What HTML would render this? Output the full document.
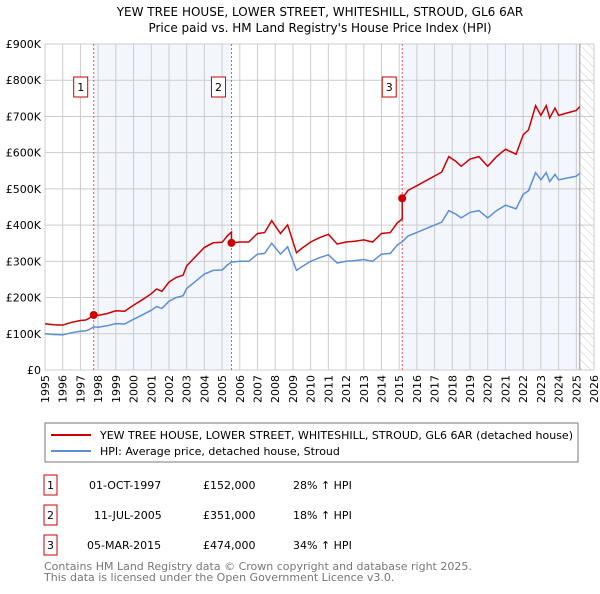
<!DOCTYPE html>
<html><head><meta charset="utf-8"><style>
body{margin:0;background:#fff;font-family:"DejaVu Sans","Liberation Sans",sans-serif;}
svg text{font-family:"DejaVu Sans","Liberation Sans",sans-serif;}
</style></head><body>
<svg id="c" width="600" height="590" xmlns="http://www.w3.org/2000/svg">
<defs><pattern id="hatch" width="6" height="6" patternUnits="userSpaceOnUse" patternTransform="rotate(-45)"><line x1="0" y1="0" x2="0" y2="6" stroke="#ccc" stroke-width="1"/></pattern></defs>
<text x="320" y="16" font-size="12" text-anchor="middle">YEW TREE HOUSE, LOWER STREET, WHITESHILL, STROUD, GL6 6AR</text>
<text x="320" y="32" font-size="12" text-anchor="middle">Price paid vs. HM Land Registry's House Price Index (HPI)</text>
<g id="plot"></g>
<rect x="45" y="423" width="533" height="39" fill="none" stroke="#777"/>
<line x1="51" y1="435" x2="91" y2="435" stroke="#cc0000" stroke-width="2"/>
<text x="100" y="439" font-size="11">YEW TREE HOUSE, LOWER STREET, WHITESHILL, STROUD, GL6 6AR (detached house)</text>
<line x1="51" y1="451" x2="91" y2="451" stroke="#5b8fd4" stroke-width="2"/>
<text x="100" y="455" font-size="11">HPI: Average price, detached house, Stroud</text>
<g font-size="11">
<rect x="44" y="475" width="13" height="20" fill="none" stroke="#cc0000"/><text x="50.5" y="489" text-anchor="middle">1</text>
<text x="89" y="489">01-OCT-1997</text><text x="203" y="489">£152,000</text><text x="293" y="489">28% ↑ HPI</text>
<rect x="44" y="505" width="13" height="20" fill="none" stroke="#cc0000"/><text x="50.5" y="519" text-anchor="middle">2</text>
<text x="94" y="519">11-JUL-2005</text><text x="203" y="519">£351,000</text><text x="293" y="519">18% ↑ HPI</text>
<rect x="44" y="535" width="13" height="20" fill="none" stroke="#cc0000"/><text x="50.5" y="549" text-anchor="middle">3</text>
<text x="87" y="549">05-MAR-2015</text><text x="203" y="549">£474,000</text><text x="293" y="549">34% ↑ HPI</text>
</g>
<text x="44" y="570" font-size="11" fill="#777">Contains HM Land Registry data © Crown copyright and database right 2025.</text>
<text x="44" y="581" font-size="11" fill="#777">This data is licensed under the Open Government Licence v3.0.</text>
</svg>
<script>
const hpiYears=[1995,1995.5,1996,1996.5,1997,1997.3,1997.5,1997.75,1998,1998.5,1999,1999.5,2000,2000.5,2001,2001.3,2001.6,2002,2002.4,2002.8,2003,2003.5,2004,2004.5,2005,2005.3,2005.53,2006,2006.5,2007,2007.4,2007.8,2008.3,2008.7,2009.2,2009.5,2010,2010.5,2011,2011.5,2012,2012.5,2013,2013.5,2014,2014.5,2014.9,2015.17,2015.5,2016,2016.5,2017,2017.4,2017.8,2018.2,2018.5,2019,2019.5,2020,2020.5,2021,2021.3,2021.6,2022,2022.3,2022.7,2023,2023.3,2023.5,2023.8,2024,2024.5,2025,2025.2];
const hpiValues=[100,98,97,103,107,108,112,119,118,122,128,127,140,152,165,175,170,190,200,205,225,245,265,275,276,290,298,300,300,320,322,350,320,340,275,285,300,310,318,295,300,302,305,300,320,322,345,354,370,380,390,400,408,440,430,420,435,440,420,440,455,450,445,485,495,545,525,545,520,540,525,530,535,543];
const saleYears=[1997.75,2005.53,2015.17];
const salePrices=[152000,351000,474000];
const yTicks=[0,100,200,300,400,500,600,700,800,900];
const yLabels=["£0","£100K","£200K","£300K","£400K","£500K","£600K","£700K","£800K","£900K"];
const xTicks=[1995,1996,1997,1998,1999,2000,2001,2002,2003,2004,2005,2006,2007,2008,2009,2010,2011,2012,2013,2014,2015,2016,2017,2018,2019,2020,2021,2022,2023,2024,2025,2026];
const X0=45,X1=594,Y0=370,Y1=44;
const xs=y=>X0+(y-1995)/(2026-1995)*(X1-X0);
const ys=v=>Y0-v/900*(Y0-Y1);
const NS="http://www.w3.org/2000/svg";
const g=document.getElementById('plot');
function mk(t,a,p){const e=document.createElementNS(NS,t);for(const k in a)e.setAttribute(k,a[k]);(p||g).appendChild(e);return e;}
function hpiAt(y){for(let i=1;i<hpiYears.length;i++){if(y<=hpiYears[i]){const t=(y-hpiYears[i-1])/(hpiYears[i]-hpiYears[i-1]);return hpiValues[i-1]+t*(hpiValues[i]-hpiValues[i-1]);}}return hpiValues[hpiValues.length-1];}
let b=mk('rect',{x:xs(saleYears[0]),y:Y1,width:xs(saleYears[1])-xs(saleYears[0]),height:Y0-Y1,fill:'#f3f6fd'});


b=mk('rect',{x:xs(saleYears[2]),y:Y1,width:xs(2025.2)-xs(saleYears[2]),height:Y0-Y1,fill:'#f3f6fd'});


b=mk('rect',{x:xs(2025.2),y:Y1,width:X1-xs(2025.2),height:Y0-Y1,fill:'url(#hatch)'});


yTicks.forEach((v,i)=>{mk('line',{x1:X0,x2:X1,y1:ys(v),y2:ys(v),stroke:'#ccc'});
 const t=mk('text',{x:X0-4,y:ys(v)+4,'font-size':11,'text-anchor':'end'});t.textContent=yLabels[i];
 
 });
xTicks.forEach(y=>{mk('line',{x1:xs(y),x2:xs(y),y1:Y1,y2:Y0,stroke:'#ccc'});
 const t=mk('text',{x:0,y:0,'font-size':11,'text-anchor':'end',transform:`translate(${xs(y)+4},${Y0+5}) rotate(-90)`});t.textContent=y;
 
 });
mk('line',{x1:xs(2025.2),x2:xs(2025.2),y1:Y1,y2:Y0,stroke:'#999'});
saleYears.forEach((y,i)=>{const l=mk('line',{x1:xs(y),x2:xs(y),y1:Y1,y2:Y0,stroke:'#ee5555','stroke-dasharray':'2,2'});
 
 
 const r=mk('rect',{x:xs(y)-20,y:77,width:14,height:20,fill:'#fff',stroke:'#cc0000'});
 
 
 const t=mk('text',{x:xs(y)-13,y:91,'font-size':11,'text-anchor':'middle'});t.textContent=i+1;});
let d=hpiYears.map((y,i)=>(i?'L':'M')+xs(y).toFixed(1)+','+ys(hpiValues[i]).toFixed(1)).join('');
const hl=mk('path',{d,fill:'none',stroke:'#5b8fd4','stroke-width':1.5});


function factor(y){let k=0;for(let i=0;i<saleYears.length;i++)if(y>=saleYears[i])k=i;return salePrices[k]/1000/hpiAt(saleYears[k]);}
let pts=[];
hpiYears.forEach((y,i)=>{
 saleYears.forEach((s,j)=>{if(j>0&&hpiYears[i-1]<s&&y>=s){pts.push([s,hpiAt(s)*salePrices[j-1]/1000/hpiAt(saleYears[j-1])]);pts.push([s,salePrices[j]/1000]);}});
 pts.push([y,hpiValues[i]*factor(y)]);});
d=pts.map((p,i)=>(i?'L':'M')+xs(p[0]).toFixed(1)+','+ys(p[1]).toFixed(1)).join('');
const pl=mk('path',{d,fill:'none',stroke:'#cc0000','stroke-width':1.5});


saleYears.forEach((y,i)=>{const c=mk('circle',{cx:xs(y),cy:ys(salePrices[i]/1000),r:4,fill:'#cc0000'});
 
 });
</script>
</body></html>
